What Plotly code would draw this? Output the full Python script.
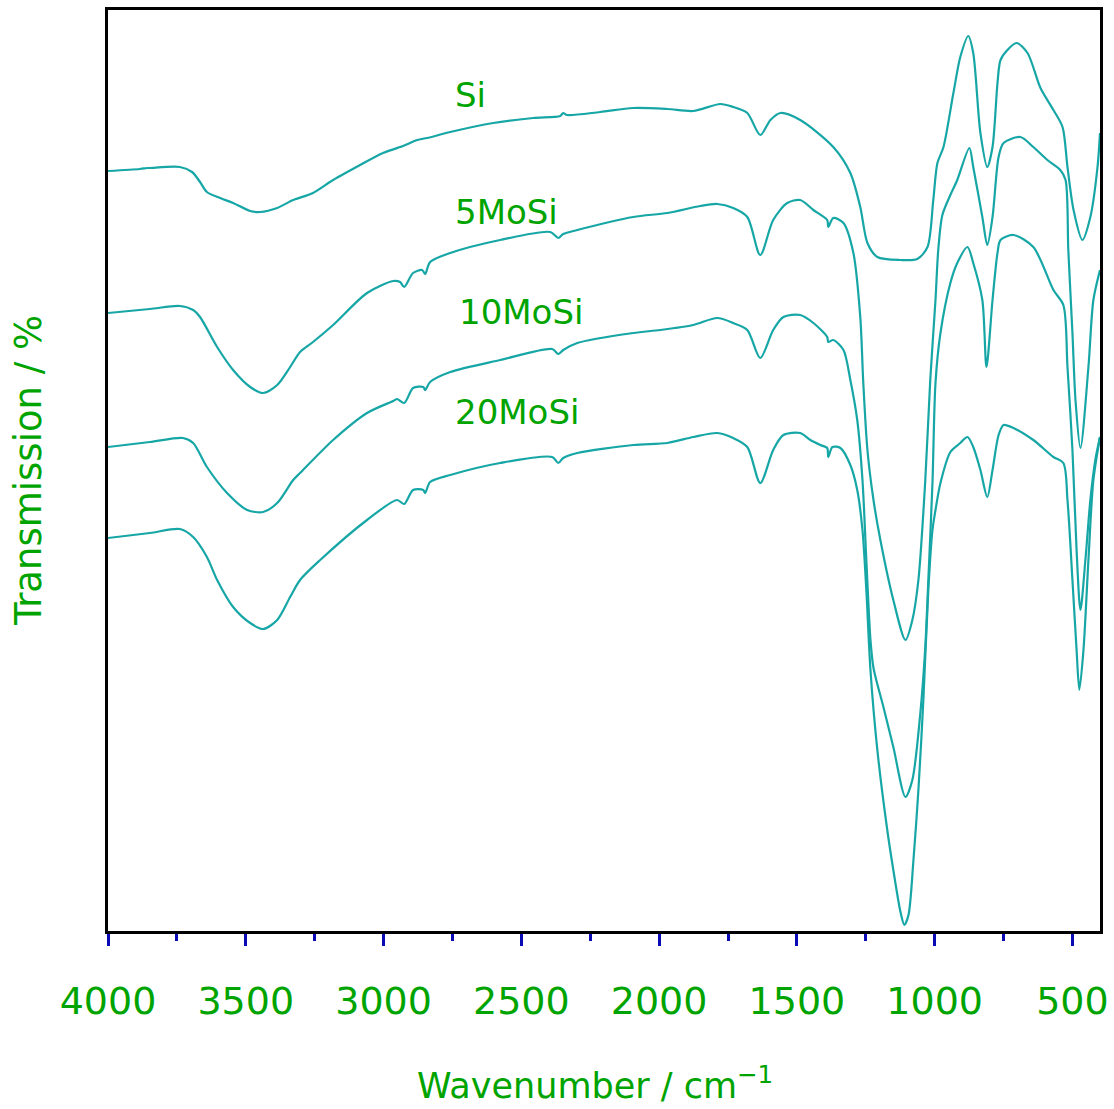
import plotly.graph_objects as go

# ---------------- data ----------------
si_wn = [4000, 3884, 3858, 3848, 3739, 3695, 3666, 3641, 3593, 3546, 3484, 3448, 3386, 3328,
         3256, 3183, 3085, 3002, 2940, 2929, 2878, 2842, 2758, 2602, 2457, 2359, 2348, 2334,
         2214, 2094, 1970, 1876, 1778, 1731, 1680, 1633, 1596, 1560, 1488, 1368, 1306, 1270,
         1244, 1208, 1124, 1063, 1026, 1005, 990, 968, 932, 907, 878, 860, 834, 809, 790, 772,
         761, 736, 703, 663, 616, 569, 536, 518, 496, 464, 435, 409, 400]
si_t = [760, 762, 763, 763, 764, 759, 749, 739, 733, 728, 720, 719, 723, 731,
        738, 751, 766, 778, 784, 785, 791, 793, 799, 808, 813, 815, 818, 816,
        819, 823, 822, 820, 827, 824, 818, 796, 811, 818, 811, 784, 758, 724,
        688, 674, 671, 672, 684, 731, 768, 784, 838, 874, 895, 878, 798, 764, 784, 848,
        871, 881, 888, 878, 843, 821, 804, 764, 721, 691, 714, 764, 798]

mo5_wn = [4000, 3848, 3739, 3691, 3666, 3604, 3546, 3484, 3437, 3386, 3339, 3303, 3256, 3183,
          3060, 2965, 2940, 2925, 2893, 2860, 2849, 2831, 2758, 2577, 2395, 2366, 2348, 2297,
          2094, 1970, 1851, 1789, 1731, 1680, 1633, 1586, 1535, 1488, 1440, 1390, 1386, 1368,
          1331, 1295, 1270, 1259, 1244, 1222, 1197, 1150, 1106, 1081, 1059, 1034, 1016, 997,
          987, 972, 943, 918, 874, 860, 827, 809, 790, 768, 750, 689, 642, 591, 544, 525,
          515, 500, 489, 471, 442, 424, 400]
mo5_t = [618, 622, 625, 621, 614, 584, 561, 544, 538, 546, 564, 579, 589, 606,
         638, 650, 649, 644, 658, 661, 657, 669, 678, 691, 699, 693, 697, 701,
         714, 718, 725, 727, 723, 714, 676, 711, 728, 731, 721, 711, 704, 713,
         708, 678, 614, 548, 481, 431, 391, 331, 291, 311, 351, 451, 551, 631,
         681, 716, 736, 751, 783, 764, 714, 686, 714, 774, 788, 794, 784, 771, 761, 751,
         681, 598, 531, 483, 564, 631, 661]

mo10_wn = [4000, 3848, 3728, 3691, 3641, 3568, 3495, 3437, 3386, 3328, 3303, 3183, 3060, 2965,
           2951, 2925, 2893, 2856, 2849, 2831, 2758, 2577, 2388, 2366, 2348, 2297, 2094, 1996,
           1876, 1789, 1731, 1680, 1633, 1586, 1549, 1488, 1440, 1390, 1386, 1368, 1331, 1306,
           1281, 1262, 1248, 1233, 1222, 1186, 1150, 1106, 1081, 1052, 1034, 1023, 1008, 997,
           979, 943, 918, 881, 860, 827, 812, 790, 772, 761, 714, 642, 569, 533, 518, 500,
           485, 471, 453, 435, 417, 400]
mo10_t = [484, 489, 493, 488, 464, 438, 421, 419, 428, 451, 458, 491, 518, 530,
          532, 528, 543, 544, 541, 549, 559, 571, 582, 577, 581, 588, 598, 601,
          606, 613, 608, 601, 573, 601, 614, 616, 608, 594, 589, 591, 581, 551,
          511, 451, 371, 291, 263, 224, 184, 134, 151, 218, 284, 351, 448, 548,
          598, 648, 668, 684, 668, 631, 564, 631, 678, 691, 696, 684, 641, 626, 564, 481,
          381, 321, 371, 431, 471, 494]

mo20_wn = [4000, 3848, 3739, 3691, 3641, 3604, 3546, 3484, 3437, 3386, 3339, 3303, 3230, 3060,
           2951, 2925, 2893, 2856, 2849, 2831, 2758, 2577, 2388, 2366, 2348, 2297, 2094, 1970,
           1876, 1789, 1731, 1680, 1633, 1586, 1549, 1488, 1451, 1415, 1390, 1386, 1371, 1342,
           1306, 1281, 1262, 1248, 1233, 1208, 1172, 1150, 1124, 1110, 1095, 1077, 1059, 1041,
           1023, 1008, 997, 979, 943, 907, 881, 860, 834, 809, 790, 768, 750, 714, 642, 569,
           533, 518, 500, 485, 475, 460, 442, 424, 400]
mo20_t = [393, 398, 402, 394, 374, 351, 324, 308, 302, 311, 334, 351, 371, 411,
          431, 427, 441, 441, 438, 449, 456, 468, 474, 468, 473, 478, 486, 488,
          494, 498, 493, 484, 448, 481, 496, 498, 491, 486, 483, 474, 484, 483,
          466, 441, 401, 341, 261, 181, 101, 61, 19, 6, 16, 71, 141, 231,
          341, 401, 421, 448, 479, 488, 494, 484, 461, 434, 461, 496, 506, 503, 491, 474,
          468, 431, 351, 281, 241, 281, 371, 451, 494]

series_names = ["Si", "5MoSi", "10MoSi", "20MoSi"]
label_wn = [2747, 2747, 2735, 2747]
label_t = [836, 719, 619, 519]

tick_vals = [4000, 3500, 3000, 2500, 2000, 1500, 1000, 500]
tick_text = ["4000", "3500", "3000", "2500", "2000", "1500", "1000", "500"]

# ---------------- figure ----------------
LINE = "#17a6a6"
GREEN = "#00a400"
TICKBLUE = "#0a0ab4"
FONT = "DejaVu Sans, Verdana, sans-serif"

fig = go.Figure()
for name, xs, ys in zip(series_names,
                        [si_wn, mo5_wn, mo10_wn, mo20_wn],
                        [si_t, mo5_t, mo10_t, mo20_t]):
    fig.add_trace(go.Scatter(x=xs, y=ys, mode="lines", name=name,
                             line=dict(color=LINE, width=2.2, shape="spline", smoothing=0.8),
                             showlegend=False, hoverinfo="skip"))

for name, lx, ly in zip(series_names, label_wn, label_t):
    fig.add_annotation(x=lx, y=ly, xref="x", yref="y", text=name, showarrow=False,
                       xanchor="left", yanchor="middle",
                       font=dict(family=FONT, size=34, color=GREEN))

fig.update_xaxes(range=[4000, 400], tickvals=tick_vals, ticktext=tick_text,
                 ticks="outside", ticklen=12, tickwidth=2.5, tickcolor=TICKBLUE,
                 minor=dict(ticks="outside", ticklen=7, tickwidth=2.5, tickcolor=TICKBLUE,
                            tickvals=[3750, 3250, 2750, 2250, 1750, 1250, 750]),
                 ticklabelstandoff=22, automargin=False,
                 tickfont=dict(family=FONT, size=38, color=GREEN),
                 showline=True, linecolor="black", linewidth=3, mirror=True,
                 showgrid=False, zeroline=False)
fig.update_yaxes(range=[0, 921], showticklabels=False, ticks="", automargin=False,
                 showline=True, linecolor="black", linewidth=3, mirror=True,
                 showgrid=False, zeroline=False)

fig.add_annotation(x=0.491, y=0, xref="paper", yref="paper", yshift=-152,
                   text="Wavenumber / cm<sup>\u22121</sup>", showarrow=False,
                   xanchor="center", yanchor="middle",
                   font=dict(family=FONT, size=35, color=GREEN))
fig.add_annotation(x=0, y=0.5, xref="paper", yref="paper", xshift=-56,
                   text="Transmission / %", showarrow=False, textangle=-90,
                   xanchor="right", yanchor="middle",
                   font=dict(family=FONT, size=37, color=GREEN))

fig.update_layout(width=1114, height=1109,
                  margin=dict(l=108, r=14, t=10, b=178, autoexpand=False),
                  paper_bgcolor="white", plot_bgcolor="white")

fig.write_html("out.html", config={"displayModeBar": False},
               post_script="document.body.style.margin='0px';document.body.style.overflow='hidden';")
